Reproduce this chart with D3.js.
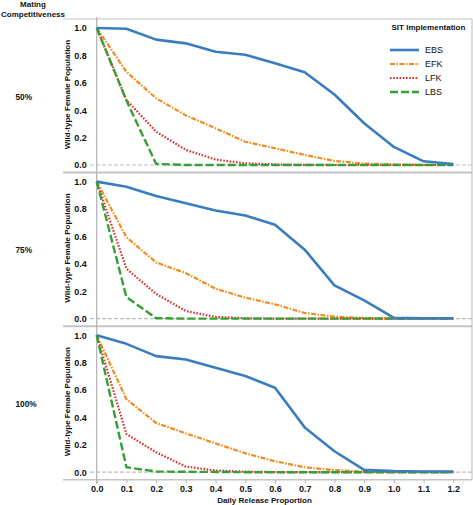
<!DOCTYPE html>
<html>
<head>
<meta charset="utf-8">
<script src="https://cdn.jsdelivr.net/npm/d3@7"></script>
<style>
  html, body { margin: 0; padding: 0; background: #fff; }
  svg { display: block; font-family: "Liberation Sans", Arial, sans-serif; }
</style>
</head>
<body>
<svg id="chart" width="473" height="505"></svg>
<script>
// ---------------- data ----------------
const releaseProportions = [0, 0.1, 0.2, 0.3, 0.4, 0.5, 0.6, 0.7, 0.8, 0.9, 1.0, 1.1, 1.2];
const xTickLabels = ["0.0","0.1","0.2","0.3","0.4","0.5","0.6","0.7","0.8","0.9","1.0","1.1","1.2"];
const yTickValues = [0, 0.2, 0.4, 0.6, 0.8, 1.0];
const competitiveness = ["50%", "75%", "100%"];
const seriesNames = ["EBS", "EFK", "LFK", "LBS"];

const ebs50  = [1.0, 0.995, 0.915, 0.888, 0.827, 0.805, 0.742, 0.677, 0.515, 0.305, 0.132, 0.027, 0.007];
const efk50  = [1.0, 0.680, 0.487, 0.362, 0.268, 0.170, 0.122, 0.073, 0.030, 0.010, 0.004, 0.001, 0.0];
const lfk50  = [1.0, 0.475, 0.243, 0.110, 0.040, 0.012, 0.004, 0.001, 0.0, 0.0, 0.0, 0.0, 0.0];
const lbs50  = [1.0, 0.470, 0.008, 0.0, 0.0, 0.0, 0.0, 0.0, 0.0, 0.0, 0.0, 0.0, 0.0];

const ebs75  = [1.0, 0.963, 0.895, 0.842, 0.789, 0.752, 0.685, 0.503, 0.243, 0.133, 0.005, 0.003, 0.003];
const efk75  = [1.0, 0.594, 0.410, 0.332, 0.218, 0.153, 0.104, 0.041, 0.015, 0.004, 0.0, 0.0, 0.0];
const lfk75  = [1.0, 0.364, 0.180, 0.055, 0.012, 0.003, 0.0, 0.0, 0.0, 0.0, 0.0, 0.0, 0.0];
const lbs75  = [1.0, 0.157, 0.003, 0.0, 0.0, 0.0, 0.0, 0.0, 0.0, 0.0, 0.0, 0.0, 0.0];

const ebs100 = [1.0, 0.937, 0.847, 0.823, 0.763, 0.702, 0.617, 0.327, 0.153, 0.017, 0.008, 0.005, 0.005];
const efk100 = [1.0, 0.533, 0.360, 0.283, 0.210, 0.138, 0.080, 0.036, 0.015, 0.005, 0.002, 0.0, 0.0];
const lfk100 = [1.0, 0.279, 0.145, 0.041, 0.012, 0.004, 0.001, 0.0, 0.0, 0.0, 0.0, 0.0, 0.0];
const lbs100 = [1.0, 0.036, 0.005, 0.003, 0.002, 0.0, 0.0, 0.0, 0.0, 0.0, 0.0, 0.0, 0.0];

const panelData = [
  { EBS: ebs50,  EFK: efk50,  LFK: lfk50,  LBS: lbs50  },
  { EBS: ebs75,  EFK: efk75,  LFK: lfk75,  LBS: lbs75  },
  { EBS: ebs100, EFK: efk100, LFK: lfk100, LBS: lbs100 }
];

// ---------------- styles ----------------
const styles = {
  EBS: { color: "#3a7dbf", width: 2.6, dash: null },
  EFK: { color: "#f28a1e", width: 2.2, dash: "5,1.5,1.5,1.5" },
  LFK: { color: "#d8302b", width: 2.2, dash: "1.6,1.6" },
  LBS: { color: "#34a034", width: 2.4, dash: "8,3" }
};
const drawOrder = ["EFK", "LFK", "LBS", "EBS"];

const svg = d3.select("#chart");
const gridColor = "#c4c4c4";
const leftX = 63, rightX = 472;
const panelTops = [19, 172.6, 326.2];
const panelH = 153.6;

const x = d3.scaleLinear().domain([0, 1.2]).range([96.7, 453.3]);

// background structure
panelTops.forEach((t, i) => {
  svg.append("line").attr("x1", leftX).attr("x2", rightX).attr("y1", t).attr("y2", t)
    .attr("stroke", gridColor).attr("stroke-width", i === 0 ? 1.2 : 2);
});
const bottomY = panelTops[2] + panelH;
svg.append("line").attr("x1", leftX).attr("x2", rightX).attr("y1", bottomY).attr("y2", bottomY)
  .attr("stroke", gridColor).attr("stroke-width", 1.5);
svg.append("line").attr("x1", rightX).attr("x2", rightX).attr("y1", panelTops[0]).attr("y2", bottomY)
  .attr("stroke", gridColor).attr("stroke-width", 1.2);
svg.append("line").attr("x1", x(0)).attr("x2", x(0)).attr("y1", panelTops[0] - 2).attr("y2", bottomY + 4)
  .attr("stroke", "#b5b5b5").attr("stroke-width", 1.3);

// panels
panelTops.forEach((t, i) => {
  const y = d3.scaleLinear().domain([0, 1]).range([t + 146, t + 9]);
  const g = svg.append("g");

  // zero dashed line
  g.append("line").attr("x1", 90).attr("x2", rightX).attr("y1", y(0)).attr("y2", y(0))
    .attr("stroke", "#bdbdbd").attr("stroke-width", 1.2).attr("stroke-dasharray", "4,2");

  const yAxis = d3.axisLeft(y).tickValues(yTickValues).tickSize(0).tickPadding(10)
    .tickFormat(d3.format(".1f"));
  const ya = g.append("g").attr("transform", `translate(${x(0)},0)`).call(yAxis);
  ya.select(".domain").remove();
  ya.selectAll("text").attr("font-size", 9).attr("font-weight", "bold").attr("fill", "#111")
    .attr("font-family", "Liberation Sans, Arial, sans-serif");

  // y title
  g.append("text")
    .attr("transform", `translate(70,${(y(0) + y(1)) / 2 - 2}) rotate(-90)`)
    .attr("text-anchor", "middle").attr("font-size", 8).attr("font-weight", "bold").attr("fill", "#111")
    .text("Wild-type Female Population");

  // row label
  g.append("text").attr("x", 15.5).attr("y", (y(0) + y(1)) / 2 + 3)
    .attr("font-size", 8.3).attr("font-weight", "bold").attr("fill", "#111")
    .text(competitiveness[i]);

  const line = d3.line().x((d, k) => x(releaseProportions[k])).y(d => y(d));
  drawOrder.forEach(name => {
    const s = styles[name];
    g.append("path").datum(panelData[i][name])
      .attr("d", line).attr("fill", "none")
      .attr("stroke", s.color).attr("stroke-width", s.width)
      .attr("stroke-dasharray", s.dash).attr("stroke-linejoin", "round");
  });
});

// x axis
const xAxis = d3.axisBottom(x).tickValues(releaseProportions).tickSize(3.5).tickPadding(2)
  .tickFormat((d, k) => xTickLabels[k]);
const xa = svg.append("g").attr("transform", `translate(0,${bottomY})`).call(xAxis);
xa.select(".domain").remove();
xa.selectAll("line").attr("stroke", "#b5b5b5");
xa.selectAll("text").attr("font-size", 9).attr("font-weight", "bold").attr("fill", "#111")
  .attr("font-family", "Liberation Sans, Arial, sans-serif");

svg.append("text").attr("x", 264.5).attr("y", 503).attr("text-anchor", "middle")
  .attr("font-size", 8).attr("font-weight", "bold").attr("fill", "#111")
  .text("Daily Release Proportion");

// top-left title
svg.append("text").attr("x", 33).attr("y", 7).attr("text-anchor", "middle")
  .attr("font-size", 8).attr("font-weight", "bold").attr("fill", "#111").text("Mating");
svg.append("text").attr("x", 33).attr("y", 16.5).attr("text-anchor", "middle")
  .attr("font-size", 8).attr("font-weight", "bold").attr("fill", "#111").text("Competitiveness");

// legend
svg.append("text").attr("x", 391.5).attr("y", 30).attr("font-size", 8).attr("font-weight", "bold")
  .attr("fill", "#111").text("SIT Implementation");
const legendYs = d3.scalePoint().domain(seriesNames).range([50, 92]);
seriesNames.forEach(name => {
  const s = styles[name];
  const ly = legendYs(name);
  svg.append("line").attr("x1", 390).attr("x2", 419).attr("y1", ly).attr("y2", ly)
    .attr("stroke", s.color).attr("stroke-width", s.width).attr("stroke-dasharray", s.dash);
  svg.append("text").attr("x", 425).attr("y", ly + 3).attr("font-size", 9)
    .attr("fill", "#111").text(name);
});
</script>
</body>
</html>
